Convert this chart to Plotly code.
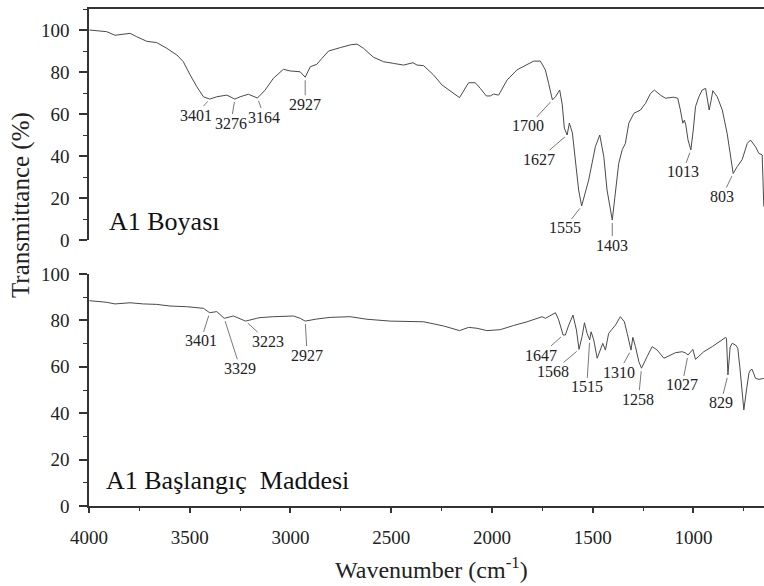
import numpy as np
import plotly.graph_objects as go

# ---------------- data ----------------
top_wn = [3998, 3945, 3912, 3871, 3830, 3796, 3763, 3713, 3664, 3614, 3564, 3532, 3498, 3465, 3432,
          3401, 3366, 3316, 3276, 3250, 3209, 3164, 3126, 3085, 3035, 3002, 2952, 2927, 2902, 2869,
          2844, 2811, 2753, 2704, 2670, 2638, 2588, 2538, 2489, 2439, 2392, 2372, 2339, 2290, 2248,
          2207, 2161, 2116, 2083, 2058, 2028, 2008, 1992, 1967, 1949, 1925, 1876, 1826, 1793, 1760,
          1735, 1719, 1700, 1685, 1664, 1651, 1641, 1627, 1616, 1601, 1586, 1570, 1555, 1520, 1487,
          1465, 1445, 1429, 1403, 1387, 1371, 1354, 1338, 1321, 1296, 1263, 1238, 1213, 1194, 1164,
          1139, 1098, 1078, 1065, 1053, 1045, 1038, 1027, 1013, 1001, 990, 973, 957, 940, 932,
          922, 912, 904, 882, 857, 833, 813, 803, 783, 758, 733, 717, 692, 676, 659, 651]
top_t = [100.0, 99.5, 99.2, 97.5, 97.8, 98.4, 96.8, 94.6, 94.0, 91.3, 88.1, 84.9, 78.6, 73.0, 68.2,
         67.1, 68.2, 69.0, 67.1, 68.2, 69.4, 67.6, 71.4, 77.0, 81.3, 80.5, 80.1, 77.5, 82.5, 83.7,
         86.5, 90.0, 91.6, 92.9, 93.3, 91.3, 87.0, 84.9, 84.1, 83.3, 84.4, 83.3, 83.0, 78.6, 73.8,
         71.1, 67.8, 74.9, 74.9, 72.2, 68.6, 68.6, 69.5, 69.0, 72.4, 76.2, 81.0, 83.3, 85.2, 85.2,
         81.0, 74.6, 66.7, 68.2, 71.4, 64.3, 53.3, 50.0, 55.7, 51.0, 38.1, 23.8, 16.2, 28.6, 44.4,
         50.0, 39.7, 23.8, 9.5, 22.2, 36.5, 42.9, 46.0, 55.6, 60.3, 61.9, 65.1, 69.8, 71.4, 69.0,
         67.5, 68.0, 67.5, 61.9, 55.6, 57.1, 54.8, 47.6, 42.9, 52.4, 63.5, 68.2, 71.4, 72.2, 68.2,
         61.9, 66.7, 71.1, 68.2, 61.9, 50.8, 36.5, 31.7, 34.9, 38.4, 46.0, 47.6, 44.4, 41.3, 40.5, 15.9]

bot_wn = [3998, 3945, 3912, 3871, 3796, 3730, 3664, 3598, 3515, 3432, 3401, 3366, 3329, 3283, 3223,
          3167, 3151, 3085, 2985, 2952, 2927, 2869, 2803, 2704, 2621, 2505, 2339, 2240, 2161, 2116,
          2074, 2025, 1975, 1959, 1893, 1826, 1751, 1735, 1685, 1669, 1647, 1636, 1619, 1598, 1581,
          1568, 1553, 1541, 1528, 1515, 1508, 1495, 1478, 1462, 1450, 1437, 1421, 1404, 1387, 1363,
          1343, 1329, 1310, 1301, 1288, 1271, 1258, 1230, 1205, 1180, 1147, 1122, 1089, 1056, 1040,
          1027, 1003, 990, 973, 949, 907, 865, 840, 836, 829, 818, 808, 791, 780, 770, 750,
          737, 725, 717, 709, 692, 675, 651]
bot_t = [88.5, 88.1, 87.8, 87.1, 87.6, 87.1, 86.9, 86.2, 85.9, 85.2, 83.3, 83.8, 80.9, 81.9, 79.7,
         80.9, 81.2, 81.6, 81.9, 80.9, 79.7, 80.6, 81.3, 81.6, 80.5, 79.7, 79.4, 77.6, 75.6, 77.0,
         76.6, 75.6, 75.9, 76.0, 77.8, 79.4, 81.6, 80.9, 83.3, 80.2, 73.7, 73.7, 78.0, 82.3, 75.9,
         67.5, 73.0, 79.0, 74.4, 71.6, 75.1, 71.6, 63.7, 67.2, 70.1, 67.2, 74.4, 76.2, 78.0, 81.6,
         79.4, 74.4, 67.2, 72.7, 68.7, 62.2, 59.4, 64.4, 68.7, 67.2, 63.7, 64.7, 66.1, 66.5, 66.0,
         65.1, 67.5, 63.2, 64.7, 66.5, 68.7, 71.2, 72.7, 72.0, 56.5, 68.5, 70.1, 69.4, 68.0, 60.0, 41.4,
         50.0, 57.2, 58.6, 58.9, 55.0, 54.6, 55.0]

top_peaks = [3401, 3276, 3164, 2927, 1700, 1627, 1555, 1403, 1013, 803]
bot_peaks = [3401, 3329, 3223, 2927, 1647, 1568, 1515, 1310, 1258, 1027, 829]

top_name = "A1 Boyası"
bot_name = "A1 Başlangıç\u00a0 Maddesi"
x_title = "Wavenumber (cm<sup>-1</sup>)"
y_title = "Transmittance (%)"
x_ticks = [4000, 3500, 3000, 2500, 2000, 1500, 1000]
y_ticks = [0, 20, 40, 60, 80, 100]

# ---------------- style ----------------
FONT = "Liberation Serif, Times New Roman, serif"
AX = "#333333"
LINE = "#4a4a4a"
top_off = [(-14, 16), (-4, 24), (7, 19), (0, 27), (-24, 26), (-28, 24), (-17, 22), (0, 25), (-8, 22), (-11, 23)]
bot_off = [(-9, 28), (16, 50), (22, 20), (2, 34), (-22, 20), (-26, 22), (-3, 47), (-12, 22), (-3, 31), (-6, 30), (-7, 28)]

fig = go.Figure()
fig.add_trace(go.Scatter(x=bot_wn, y=bot_t, mode="lines", line=dict(color=LINE, width=1),
                         xaxis="x", yaxis="y", showlegend=False, hoverinfo="skip"))
fig.add_trace(go.Scatter(x=top_wn, y=top_t, mode="lines", line=dict(color=LINE, width=1),
                         xaxis="x2", yaxis="y2", showlegend=False, hoverinfo="skip"))

yax = dict(showline=True, linecolor=AX, linewidth=1.5, ticks="outside", ticklen=8, tickwidth=1.5,
           tickcolor=AX, tickvals=y_ticks, showgrid=False, zeroline=False,
           tickfont=dict(family=FONT, size=19, color="#222"),
           minor=dict(dtick=10, ticks="outside", ticklen=4, tickcolor=AX, tickwidth=1.2, showgrid=False),
           ticklabelstandoff=6)

fig.update_layout(
    width=764, height=586,
    margin=dict(l=89, r=0, t=9, b=80),
    paper_bgcolor="white", plot_bgcolor="white",
    xaxis=dict(anchor="y", domain=[0, 1], range=[4000, 650], showline=True, linecolor=AX, linewidth=1.5,
               ticks="outside", ticklen=5, tickwidth=1.5, tickcolor=AX, tickvals=x_ticks,
               showgrid=False, zeroline=False, tickfont=dict(family=FONT, size=19, color="#222"),
               ticklabelstandoff=8,
               minor=dict(dtick=250, ticks="outside", ticklen=3, tickcolor=AX, tickwidth=1.2, showgrid=False)),
    xaxis2=dict(anchor="y2", matches="x", side="top", showline=True, linecolor=AX, linewidth=1.5,
                ticks="", showticklabels=False, showgrid=False, zeroline=False),
    yaxis=dict(anchor="x", domain=[0, 0.4668], range=[0, 100], **yax),
    yaxis2=dict(anchor="x2", domain=[0.5352, 1], range=[0, 110], **yax),
)

ann = []
for peaks, offs, wn, t, xr, yr in [(top_peaks, top_off, top_wn, top_t, "x2", "y2"),
                                    (bot_peaks, bot_off, bot_wn, bot_t, "x", "y")]:
    xs = np.array(wn[::-1], dtype=float)
    ys = np.array(t[::-1], dtype=float)
    for p, (dx, dy) in zip(peaks, offs):
        yv = float(np.interp(p, xs, ys))
        ann.append(dict(x=p, y=yv, xref=xr, yref=yr, text=str(p), showarrow=True, arrowhead=0,
                        arrowwidth=0.8, arrowcolor="#555", ax=dx, ay=dy, standoff=3,
                        borderpad=0, font=dict(family=FONT, size=16, color="#222")))

ann.append(dict(x=0.026, y=0.078, xref="x2 domain", yref="y2 domain", text=top_name, showarrow=False,
                xanchor="left", yanchor="middle", font=dict(family=FONT, size=26, color="#111")))
ann.append(dict(x=0.022, y=0.108, xref="x domain", yref="y domain", text=bot_name, showarrow=False,
                xanchor="left", yanchor="middle", font=dict(family=FONT, size=26, color="#111")))
ann.append(dict(x=-0.1007, y=0.6056, xref="paper", yref="paper", text=y_title,
                textangle=-90, showarrow=False, xanchor="center", yanchor="middle",
                font=dict(family=FONT, size=25, color="#222")))
ann.append(dict(x=0.508, y=-0.124, xref="paper", yref="paper", text=x_title,
                showarrow=False, xanchor="center", yanchor="middle",
                font=dict(family=FONT, size=24, color="#222")))
fig.update_layout(annotations=ann)

fig.write_html("out.html")
